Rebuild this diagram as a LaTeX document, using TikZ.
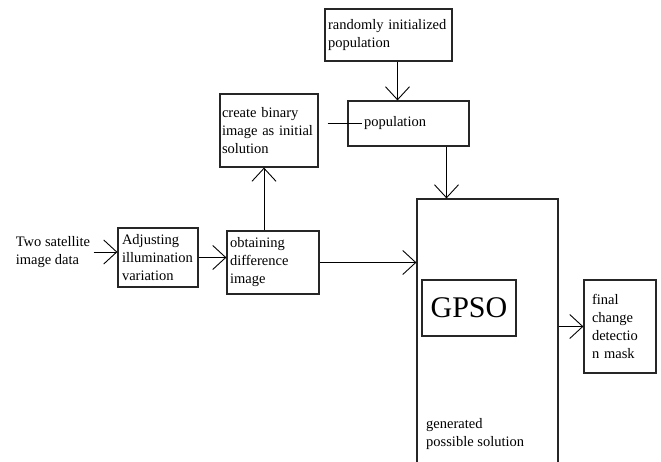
\documentclass[tikz,border=0pt]{standalone}
\usepackage{fontspec}
\setmainfont{Liberation Serif}
\usetikzlibrary{arrows.meta}

\begin{document}
\begin{tikzpicture}[x=1pt, y=-1pt]
            \tikzstyle{every node} = [font=\fontsize{14.5}{18}\selectfont, inner ysep=2pt]
            \tikzstyle{blk} = [draw=black!85, line width=1.2pt, align=left]
            \tikzstyle{arr} = [-{Straight Barb[length=13pt, width=24pt]}, line width=0.9pt]
            \path[use as bounding box, clip] (0, 0) rectangle (661, 461);

            \node[align=left] (src) at (53, 252) {Two satellite\\image data};
            \node[blk, minimum width=80pt, minimum height=59pt, inner xsep=4pt, text width=72pt]
                (adj) at (158, 257.5) {Adjusting\\illumination\\variation};
            \node[blk, minimum width=92pt, minimum height=63pt, inner xsep=3pt, text width=86pt]
                (obt) at (273, 262.5) {obtaining\\difference\\image};
            \node[blk, minimum width=98pt, minimum height=73pt, inner xsep=2pt, text width=94pt]
                (bin) at (269, 130.5) {create binary\\image as initial\\solution};

            \node[blk, minimum width=127pt, minimum height=52pt, inner xsep=3pt, text width=121pt]
                (rand) at (388.5, 35) {randomly initialized\\population};
            \node[blk, minimum width=121pt, minimum height=45pt, inner xsep=16pt, text width=89pt]
                (pop) at (408.5, 123.5) {population};

            \node[blk, minimum width=141pt, minimum height=271pt] (gpso) at (487.5, 334.5) {};
            \node[blk, minimum width=94pt, minimum height=56pt, font=\fontsize{30}{30}\selectfont]
                (core) at (469, 308) {GPSO};
            \node[align=left, anchor=west, inner xsep=2pt] (gen) at (424, 434)
                {generated\\possible solution};
            \node[blk, minimum width=72pt, minimum height=93pt, inner xsep=8pt, text width=56pt]
                (fin) at (620, 326.5) {final\\change\\detectio\\n mask};

            % connectors
            \draw[arr] (src.east) -- (src.east -| adj.west);
            \draw[arr] (adj.east) -- (adj.east -| obt.west);
            \draw[arr] ([xshift=-5pt]bin.south |- obt.north) -- ([xshift=-5pt]bin.south);
            \draw[arr] (obt.east) -- (obt.east -| gpso.west);
            \draw[arr] ([xshift=9pt]rand.south) -- ([xshift=9pt]rand.south |- pop.north);
            \draw[arr] ([xshift=38pt]pop.south) -- ([xshift=38pt]pop.south |- gpso.north);
            \draw[arr] (fin.west -| gpso.east) -- (fin.west);
            \draw[line width=1.5pt, shorten <=9pt] (bin.east |- pop.west) -- ([xshift=15pt]pop.west);
        \end{tikzpicture}
\end{document}
